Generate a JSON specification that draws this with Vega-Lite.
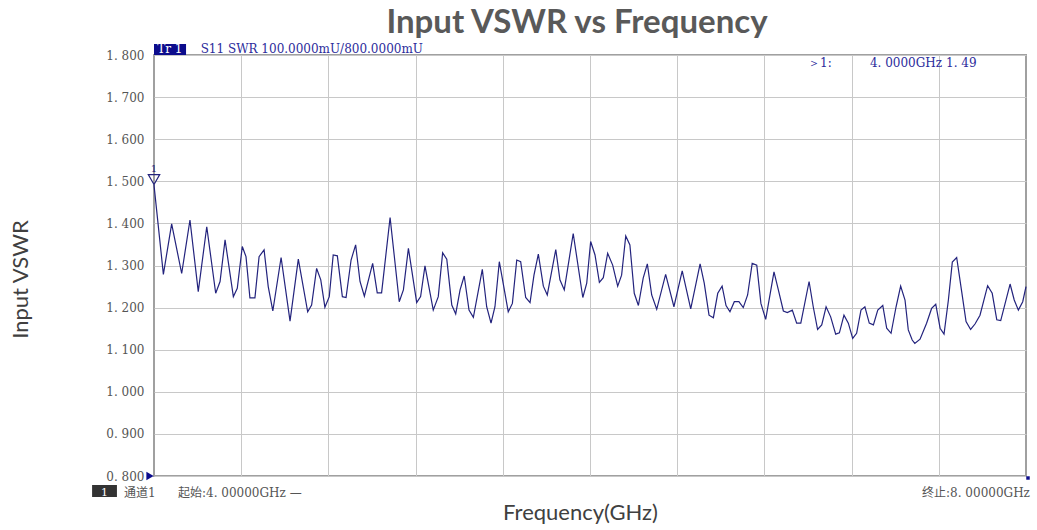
{
  "$schema": "https://vega.github.io/schema/vega-lite/v6.json",
  "width": 872,
  "height": 421,
  "autosize": {"type": "none"},
  "padding": {"left": 154, "top": 55, "right": 11, "bottom": 54},
  "background": "white",
  "title": {"text": "Input VSWR vs Frequency", "font": "Lato", "fontSize": 33, "fontWeight": "bold", "color": "#595959", "frame": "group", "anchor": "middle", "baseline": "alphabetic", "offset": -23, "dx": -13},
  "config": {
    "view": {"stroke": "#a0a0a0", "strokeWidth": 2},
    "axis": {"gridColor": "#c8c8c8", "gridWidth": 1, "gridOpacity": 1}
  },
  "datasets": {
    "trace": [
      {"f": 4.000, "v": 1.491}, {"f": 4.043, "v": 1.279}, {"f": 4.081, "v": 1.399}, {"f": 4.127, "v": 1.281},
      {"f": 4.165, "v": 1.408}, {"f": 4.203, "v": 1.238}, {"f": 4.242, "v": 1.392}, {"f": 4.283, "v": 1.234},
      {"f": 4.303, "v": 1.262}, {"f": 4.326, "v": 1.361}, {"f": 4.364, "v": 1.226}, {"f": 4.382, "v": 1.246},
      {"f": 4.405, "v": 1.345}, {"f": 4.422, "v": 1.321}, {"f": 4.440, "v": 1.223}, {"f": 4.463, "v": 1.223},
      {"f": 4.482, "v": 1.321}, {"f": 4.505, "v": 1.337}, {"f": 4.524, "v": 1.250}, {"f": 4.545, "v": 1.192},
      {"f": 4.583, "v": 1.319}, {"f": 4.624, "v": 1.168}, {"f": 4.662, "v": 1.315}, {"f": 4.705, "v": 1.190},
      {"f": 4.723, "v": 1.206}, {"f": 4.746, "v": 1.293}, {"f": 4.765, "v": 1.266}, {"f": 4.784, "v": 1.201},
      {"f": 4.804, "v": 1.226}, {"f": 4.822, "v": 1.325}, {"f": 4.841, "v": 1.323}, {"f": 4.864, "v": 1.226},
      {"f": 4.881, "v": 1.224}, {"f": 4.904, "v": 1.313}, {"f": 4.925, "v": 1.349}, {"f": 4.945, "v": 1.262},
      {"f": 4.965, "v": 1.227}, {"f": 5.003, "v": 1.305}, {"f": 5.024, "v": 1.235}, {"f": 5.044, "v": 1.235},
      {"f": 5.083, "v": 1.414}, {"f": 5.125, "v": 1.214}, {"f": 5.144, "v": 1.242}, {"f": 5.167, "v": 1.341},
      {"f": 5.205, "v": 1.212}, {"f": 5.223, "v": 1.226}, {"f": 5.243, "v": 1.299}, {"f": 5.281, "v": 1.194},
      {"f": 5.304, "v": 1.226}, {"f": 5.324, "v": 1.330}, {"f": 5.343, "v": 1.315}, {"f": 5.366, "v": 1.206},
      {"f": 5.384, "v": 1.185}, {"f": 5.404, "v": 1.242}, {"f": 5.423, "v": 1.275}, {"f": 5.445, "v": 1.194},
      {"f": 5.465, "v": 1.177}, {"f": 5.506, "v": 1.291}, {"f": 5.526, "v": 1.202}, {"f": 5.546, "v": 1.163},
      {"f": 5.564, "v": 1.202}, {"f": 5.584, "v": 1.309}, {"f": 5.625, "v": 1.190}, {"f": 5.644, "v": 1.210},
      {"f": 5.664, "v": 1.313}, {"f": 5.682, "v": 1.309}, {"f": 5.705, "v": 1.224}, {"f": 5.725, "v": 1.212},
      {"f": 5.743, "v": 1.277}, {"f": 5.763, "v": 1.327}, {"f": 5.786, "v": 1.251}, {"f": 5.804, "v": 1.230},
      {"f": 5.843, "v": 1.338}, {"f": 5.862, "v": 1.266}, {"f": 5.882, "v": 1.242}, {"f": 5.923, "v": 1.376},
      {"f": 5.967, "v": 1.224}, {"f": 5.985, "v": 1.258}, {"f": 6.003, "v": 1.357}, {"f": 6.023, "v": 1.325},
      {"f": 6.043, "v": 1.260}, {"f": 6.061, "v": 1.271}, {"f": 6.081, "v": 1.329}, {"f": 6.104, "v": 1.301},
      {"f": 6.127, "v": 1.251}, {"f": 6.145, "v": 1.277}, {"f": 6.164, "v": 1.370}, {"f": 6.183, "v": 1.349},
      {"f": 6.203, "v": 1.234}, {"f": 6.222, "v": 1.205}, {"f": 6.244, "v": 1.270}, {"f": 6.263, "v": 1.304},
      {"f": 6.283, "v": 1.230}, {"f": 6.306, "v": 1.196}, {"f": 6.347, "v": 1.279}, {"f": 6.385, "v": 1.202},
      {"f": 6.423, "v": 1.287}, {"f": 6.462, "v": 1.197}, {"f": 6.505, "v": 1.304}, {"f": 6.524, "v": 1.258},
      {"f": 6.546, "v": 1.182}, {"f": 6.566, "v": 1.176}, {"f": 6.586, "v": 1.234}, {"f": 6.606, "v": 1.251},
      {"f": 6.624, "v": 1.205}, {"f": 6.642, "v": 1.190}, {"f": 6.662, "v": 1.214}, {"f": 6.683, "v": 1.214},
      {"f": 6.703, "v": 1.200}, {"f": 6.723, "v": 1.230}, {"f": 6.744, "v": 1.305}, {"f": 6.765, "v": 1.301},
      {"f": 6.784, "v": 1.210}, {"f": 6.806, "v": 1.172}, {"f": 6.844, "v": 1.285}, {"f": 6.864, "v": 1.242},
      {"f": 6.887, "v": 1.192}, {"f": 6.905, "v": 1.188}, {"f": 6.928, "v": 1.194}, {"f": 6.948, "v": 1.163},
      {"f": 6.967, "v": 1.163}, {"f": 7.005, "v": 1.262}, {"f": 7.024, "v": 1.202}, {"f": 7.044, "v": 1.148},
      {"f": 7.063, "v": 1.159}, {"f": 7.083, "v": 1.202}, {"f": 7.104, "v": 1.178}, {"f": 7.127, "v": 1.137},
      {"f": 7.144, "v": 1.140}, {"f": 7.165, "v": 1.182}, {"f": 7.185, "v": 1.163}, {"f": 7.205, "v": 1.127},
      {"f": 7.223, "v": 1.139}, {"f": 7.243, "v": 1.194}, {"f": 7.261, "v": 1.202}, {"f": 7.281, "v": 1.163},
      {"f": 7.300, "v": 1.159}, {"f": 7.320, "v": 1.194}, {"f": 7.343, "v": 1.205}, {"f": 7.361, "v": 1.151},
      {"f": 7.381, "v": 1.139}, {"f": 7.404, "v": 1.202}, {"f": 7.425, "v": 1.251}, {"f": 7.445, "v": 1.218},
      {"f": 7.460, "v": 1.147}, {"f": 7.478, "v": 1.123}, {"f": 7.490, "v": 1.115}, {"f": 7.514, "v": 1.125},
      {"f": 7.544, "v": 1.163}, {"f": 7.567, "v": 1.198}, {"f": 7.586, "v": 1.208}, {"f": 7.606, "v": 1.151},
      {"f": 7.624, "v": 1.137}, {"f": 7.644, "v": 1.218}, {"f": 7.662, "v": 1.308}, {"f": 7.682, "v": 1.319},
      {"f": 7.705, "v": 1.238}, {"f": 7.725, "v": 1.167}, {"f": 7.746, "v": 1.148}, {"f": 7.766, "v": 1.161},
      {"f": 7.789, "v": 1.182}, {"f": 7.824, "v": 1.252}, {"f": 7.845, "v": 1.234}, {"f": 7.866, "v": 1.171},
      {"f": 7.884, "v": 1.169}, {"f": 7.927, "v": 1.256}, {"f": 7.946, "v": 1.218}, {"f": 7.965, "v": 1.194},
      {"f": 7.985, "v": 1.214}, {"f": 8.000, "v": 1.250}
    ]
  },
  "layer": [
    {
      "data": {"name": "trace"},
      "mark": {"type": "line", "color": "#23237d", "strokeWidth": 1.2, "interpolate": "linear"},
      "encoding": {
        "x": {"field": "f", "type": "quantitative", "scale": {"domain": [4, 8], "nice": false, "zero": false},
          "axis": {"values": [4.4, 4.8, 5.2, 5.6, 6.0, 6.4, 6.8, 7.2, 7.6], "labels": false, "ticks": false, "domain": false, "grid": true,
            "title": "Frequency(GHz)", "titleFont": "Lato", "titleFontSize": 22, "titleFontWeight": "normal", "titleColor": "#404040",
            "titleX": 426, "titleY": 43, "titleAlign": "center", "titleBaseline": "alphabetic"}},
        "y": {"field": "v", "type": "quantitative", "scale": {"domain": [0.8, 1.8], "nice": false, "zero": false},
          "axis": {"values": [0.8, 0.9, 1.0, 1.1, 1.2, 1.3, 1.4, 1.5, 1.6, 1.7, 1.8],
            "labelExpr": "replace(format(datum.value, '.3f'), '.', '. ')",
            "labelFont": "DejaVu Serif", "labelFontSize": 12, "labelColor": "#555555", "labelOverlap": false,
            "ticks": false, "domain": false, "labelPadding": 10, "grid": true,
            "title": "Input VSWR", "titleFont": "Lato", "titleFontSize": 22, "titleFontWeight": "normal", "titleColor": "#404040",
            "titleAngle": -90, "titleX": -134, "titleY": 224, "titleAlign": "center", "titleBaseline": "middle"}}
      }
    },
    {
      "data": {"values": [{}]},
      "mark": {"type": "rect", "color": "#0c0c8c"},
      "encoding": {
        "x": {"datum": 4.0, "type": "quantitative"},
        "x2": {"datum": 4.147},
        "y": {"datum": 1.826, "type": "quantitative"},
        "y2": {"datum": 1.8}
      }
    },
    {
      "data": {"values": [{}]},
      "mark": {"type": "text", "text": "Tr 1", "color": "white", "font": "DejaVu Serif", "fontSize": 12, "align": "center", "baseline": "alphabetic"},
      "encoding": {
        "x": {"datum": 4.073, "type": "quantitative"},
        "y": {"datum": 1.8048, "type": "quantitative"}
      }
    },
    {
      "data": {"values": [{}]},
      "mark": {"type": "text", "text": "S11  SWR  100.0000mU/800.0000mU", "color": "#2c2c9c", "font": "DejaVu Serif", "fontSize": 12, "align": "left", "baseline": "alphabetic"},
      "encoding": {
        "x": {"datum": 4.214, "type": "quantitative"},
        "y": {"datum": 1.8048, "type": "quantitative"}
      }
    },
    {
      "data": {"values": [{}]},
      "mark": {"type": "text", "text": "＞1:", "color": "#2c2c9c", "font": "DejaVu Serif", "fontSize": 12, "align": "left", "baseline": "alphabetic"},
      "encoding": {
        "x": {"datum": 7.0, "type": "quantitative"},
        "y": {"datum": 1.7715, "type": "quantitative"}
      }
    },
    {
      "data": {"values": [{}]},
      "mark": {"type": "text", "text": "4. 0000GHz", "color": "#2c2c9c", "font": "DejaVu Serif", "fontSize": 12, "align": "left", "baseline": "alphabetic"},
      "encoding": {
        "x": {"datum": 7.284, "type": "quantitative"},
        "y": {"datum": 1.7715, "type": "quantitative"}
      }
    },
    {
      "data": {"values": [{}]},
      "mark": {"type": "text", "text": "1. 49", "color": "#2c2c9c", "font": "DejaVu Serif", "fontSize": 12, "align": "left", "baseline": "alphabetic"},
      "encoding": {
        "x": {"datum": 7.633, "type": "quantitative"},
        "y": {"datum": 1.7715, "type": "quantitative"}
      }
    },
    {
      "data": {"values": [{}]},
      "mark": {"type": "point", "shape": "triangle-down", "filled": false, "color": "#23237d", "strokeWidth": 1.2, "size": 130, "yOffset": -6, "opacity": 1},
      "encoding": {
        "x": {"datum": 4.0, "type": "quantitative"},
        "y": {"datum": 1.49, "type": "quantitative"}
      }
    },
    {
      "data": {"values": [{}]},
      "mark": {"type": "text", "text": "1", "color": "#23237d", "font": "DejaVu Serif", "fontSize": 10, "align": "center", "baseline": "alphabetic", "dy": -14},
      "encoding": {
        "x": {"datum": 4.0, "type": "quantitative"},
        "y": {"datum": 1.49, "type": "quantitative"}
      }
    },
    {
      "data": {"values": [{}]},
      "mark": {"type": "point", "shape": "triangle-right", "filled": true, "color": "#0c0c8c", "size": 70, "xOffset": -4, "opacity": 1},
      "encoding": {
        "x": {"datum": 4.0, "type": "quantitative"},
        "y": {"datum": 0.8, "type": "quantitative"}
      }
    },
    {
      "data": {"values": [{}]},
      "mark": {"type": "point", "shape": "square", "filled": true, "color": "#0c0c8c", "size": 12, "xOffset": 2, "yOffset": 2, "opacity": 1},
      "encoding": {
        "x": {"datum": 8.0, "type": "quantitative"},
        "y": {"datum": 0.8, "type": "quantitative"}
      }
    },
    {
      "data": {"values": [{}]},
      "mark": {"type": "rect", "color": "#333333"},
      "encoding": {
        "x": {"datum": 3.716, "type": "quantitative"},
        "x2": {"datum": 3.830},
        "y": {"datum": 0.7786, "type": "quantitative"},
        "y2": {"datum": 0.750}
      }
    },
    {
      "data": {"values": [{}]},
      "mark": {"type": "text", "text": "1", "color": "white", "font": "DejaVu Serif", "fontSize": 11, "align": "center", "baseline": "alphabetic"},
      "encoding": {
        "x": {"datum": 3.773, "type": "quantitative"},
        "y": {"datum": 0.7525, "type": "quantitative"}
      }
    },
    {
      "data": {"values": [{}]},
      "mark": {"type": "text", "text": "通道1", "color": "#555555", "font": "DejaVu Serif, Noto Sans CJK SC", "fontSize": 12, "align": "left", "baseline": "alphabetic"},
      "encoding": {
        "x": {"datum": 3.862, "type": "quantitative"},
        "y": {"datum": 0.750, "type": "quantitative"}
      }
    },
    {
      "data": {"values": [{}]},
      "mark": {"type": "text", "text": "起始:4. 00000GHz —", "color": "#555555", "font": "DejaVu Serif, Noto Sans CJK SC", "fontSize": 12, "align": "left", "baseline": "alphabetic"},
      "encoding": {
        "x": {"datum": 4.110, "type": "quantitative"},
        "y": {"datum": 0.750, "type": "quantitative"}
      }
    },
    {
      "data": {"values": [{}]},
      "mark": {"type": "text", "text": "终止:8. 00000GHz", "color": "#555555", "font": "DejaVu Serif, Noto Sans CJK SC", "fontSize": 12, "align": "right", "baseline": "alphabetic"},
      "encoding": {
        "x": {"datum": 8.018, "type": "quantitative"},
        "y": {"datum": 0.750, "type": "quantitative"}
      }
    }
  ]
}
